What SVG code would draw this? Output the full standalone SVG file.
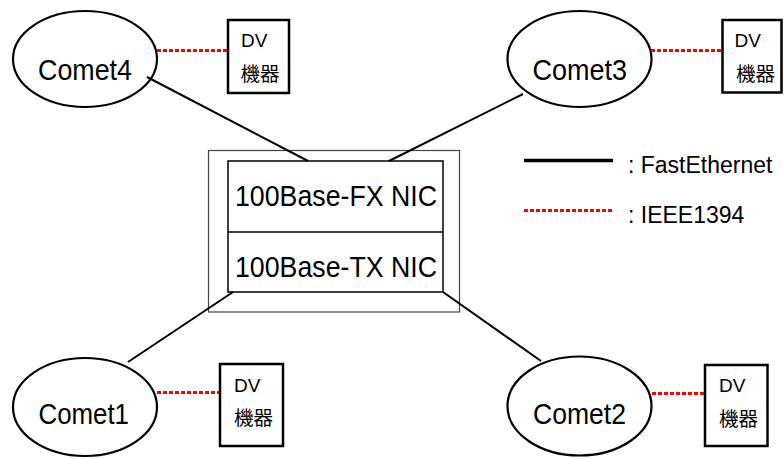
<svg xmlns="http://www.w3.org/2000/svg" width="784" height="459" viewBox="0 0 784 459">
  <style>
    .node { fill: #fff; stroke: #000; stroke-width: 2.2; }
    .box { fill: #fff; stroke: #000; stroke-width: 2.5; }
    .lbl { font-family: "Liberation Sans", Arial, sans-serif; font-size: 29px; fill: #000; }
    .dv { font-family: "Liberation Sans", Arial, sans-serif; font-size: 19px; fill: #000; }
    .jp { font-family: "Noto Sans CJK JP", "Noto Sans CJK SC", sans-serif; font-size: 19.5px; fill: #000; }
    .leg { font-family: "Liberation Sans", Arial, sans-serif; font-size: 23px; fill: #000; }
    .eth { stroke: #000; stroke-width: 2; fill: none; }
    .fw { stroke: #f00; stroke-width: 3; stroke-dasharray: 4 2; fill: none; }
  </style>
  <rect width="784" height="459" fill="#fff"/>

  <!-- central hub with two NICs -->
  <g id="hub">
    <rect x="208.5" y="150.5" width="251" height="161.5" fill="#fff" stroke="#444" stroke-width="1.2"/>
    <rect x="228" y="161" width="215" height="131" fill="#fff" stroke="#000" stroke-width="1.5"/>
    <line x1="228" y1="232" x2="443" y2="232" stroke="#000" stroke-width="1.5"/>
    <text class="lbl" x="235" y="205.5" textLength="202" lengthAdjust="spacingAndGlyphs">100Base-FX NIC</text>
    <text class="lbl" x="235" y="276.5" textLength="202" lengthAdjust="spacingAndGlyphs">100Base-TX NIC</text>
  </g>

  <!-- Comet nodes -->
  <g id="comet4">
    <ellipse class="node" cx="85" cy="59" rx="72" ry="48"/>
    <text class="lbl" x="38" y="80" textLength="94" lengthAdjust="spacingAndGlyphs">Comet4</text>
  </g>
  <g id="comet3">
    <ellipse class="node" cx="579.5" cy="59" rx="72" ry="48"/>
    <text class="lbl" x="532.5" y="80" textLength="94.5" lengthAdjust="spacingAndGlyphs">Comet3</text>
  </g>
  <g id="comet1">
    <ellipse class="node" cx="85" cy="407" rx="72" ry="49"/>
    <text class="lbl" x="38.5" y="424" textLength="90.5" lengthAdjust="spacingAndGlyphs">Comet1</text>
  </g>
  <g id="comet2">
    <ellipse class="node" cx="579.5" cy="406" rx="72" ry="49.5"/>
    <text class="lbl" x="533" y="423.5" textLength="93" lengthAdjust="spacingAndGlyphs">Comet2</text>
  </g>

  <!-- DV devices -->
  <g id="dv4">
    <rect class="box" x="228" y="20" width="61" height="73"/>
    <text class="dv" x="241" y="46.5">DV</text>
    <text class="jp" x="240.5" y="81">機器</text>
  </g>
  <g id="dv3">
    <rect class="box" x="722.5" y="20" width="59" height="72.5"/>
    <text class="dv" x="734.5" y="46.5">DV</text>
    <text class="jp" x="736" y="81">機器</text>
  </g>
  <g id="dv1">
    <rect class="box" x="220" y="364" width="63" height="82"/>
    <text class="dv" x="234" y="391.5">DV</text>
    <text class="jp" x="234" y="425">機器</text>
  </g>
  <g id="dv2">
    <rect class="box" x="705" y="365" width="62.5" height="81"/>
    <text class="dv" x="719" y="391.5">DV</text>
    <text class="jp" x="719" y="426">機器</text>
  </g>

  <!-- connectors: FastEthernet links to the hub, IEEE1394 links to DV devices -->
  <g id="connectors">
    <line class="eth" x1="147" y1="77" x2="308" y2="161"/>
    <line class="eth" x1="523" y1="94" x2="389" y2="161"/>
    <line class="eth" x1="233" y1="292" x2="128" y2="362"/>
    <line class="eth" x1="443" y1="292" x2="541" y2="361"/>
    <line class="fw" x1="157" y1="50.5" x2="227" y2="50.5"/>
    <line class="fw" x1="651" y1="50.5" x2="722" y2="50.5"/>
    <line class="fw" x1="157" y1="392.5" x2="219" y2="392.5"/>
    <line class="fw" x1="652" y1="393.5" x2="704" y2="393.5"/>
  </g>

  <!-- legend -->
  <g id="legend">
    <line x1="524" y1="160.5" x2="613" y2="160.5" stroke="#000" stroke-width="3.5"/>
    <text class="leg" x="628" y="173">: FastEthernet</text>
    <line class="fw" x1="524" y1="210.5" x2="613" y2="210.5"/>
    <text class="leg" x="628" y="222.5">: IEEE1394</text>
  </g>
</svg>
